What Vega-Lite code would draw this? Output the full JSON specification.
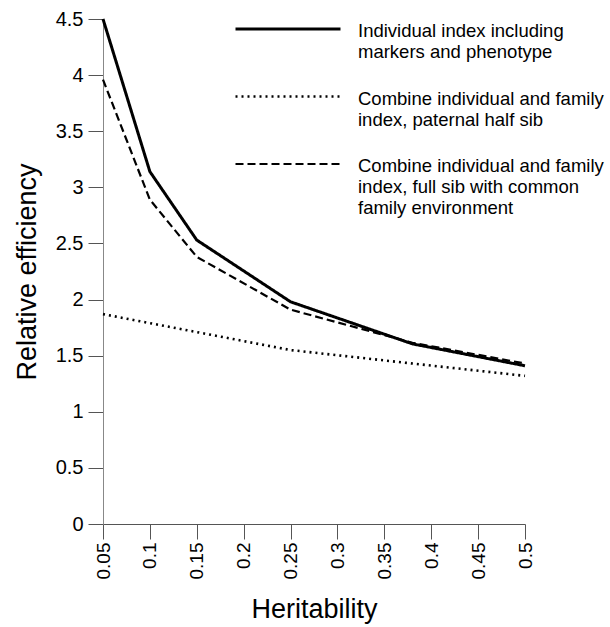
{
  "$schema": "https://vega.github.io/schema/vega-lite/v6.json",
  "width": 422,
  "height": 505,
  "autosize": {"type": "none"},
  "padding": {"left": 103, "top": 19, "right": 85, "bottom": 103},
  "background": "white",
  "config": {
    "font": "Liberation Sans",
    "view": {"stroke": null},
    "axis": {"grid": false}
  },
  "data": {
    "values": [
      {"h": 0.05, "eff": 4.5, "series": "Individual index including markers and phenotype"},
      {"h": 0.1, "eff": 3.14, "series": "Individual index including markers and phenotype"},
      {"h": 0.15, "eff": 2.53, "series": "Individual index including markers and phenotype"},
      {"h": 0.25, "eff": 1.98, "series": "Individual index including markers and phenotype"},
      {"h": 0.38, "eff": 1.605, "series": "Individual index including markers and phenotype"},
      {"h": 0.5, "eff": 1.41, "series": "Individual index including markers and phenotype"},
      {"h": 0.05, "eff": 1.87, "series": "Combine individual and family index, paternal half sib"},
      {"h": 0.1, "eff": 1.79, "series": "Combine individual and family index, paternal half sib"},
      {"h": 0.15, "eff": 1.71, "series": "Combine individual and family index, paternal half sib"},
      {"h": 0.25, "eff": 1.55, "series": "Combine individual and family index, paternal half sib"},
      {"h": 0.38, "eff": 1.43, "series": "Combine individual and family index, paternal half sib"},
      {"h": 0.5, "eff": 1.32, "series": "Combine individual and family index, paternal half sib"},
      {"h": 0.05, "eff": 3.96, "series": "Combine individual and family index, full sib with common family environment"},
      {"h": 0.1, "eff": 2.89, "series": "Combine individual and family index, full sib with common family environment"},
      {"h": 0.15, "eff": 2.38, "series": "Combine individual and family index, full sib with common family environment"},
      {"h": 0.25, "eff": 1.91, "series": "Combine individual and family index, full sib with common family environment"},
      {"h": 0.38, "eff": 1.615, "series": "Combine individual and family index, full sib with common family environment"},
      {"h": 0.5, "eff": 1.43, "series": "Combine individual and family index, full sib with common family environment"}
    ]
  },
  "mark": {"type": "line", "color": "black"},
  "encoding": {
    "x": {
      "field": "h",
      "type": "quantitative",
      "scale": {"domain": [0.05, 0.5], "nice": false, "zero": false},
      "axis": {
        "title": "Heritability",
        "values": [0.05, 0.1, 0.15, 0.2, 0.25, 0.3, 0.35, 0.4, 0.45, 0.5],
        "format": "~g",
        "labelAngle": 270,
        "labelAlign": "right",
        "labelBaseline": "middle",
        "labelPadding": 3,
        "labelFontSize": 19,
        "labelColor": "black",
        "labelFlush": false,
        "labelOverlap": false,
        "tickSize": 15,
        "tickColor": "#555555",
        "domainColor": "#555555",
        "titleFontSize": 27,
        "titleFontWeight": "normal",
        "titleColor": "black",
        "titlePadding": 18
      }
    },
    "y": {
      "field": "eff",
      "type": "quantitative",
      "scale": {"domain": [0, 4.5], "nice": false},
      "axis": {
        "title": "Relative efficiency",
        "values": [0, 0.5, 1, 1.5, 2, 2.5, 3, 3.5, 4, 4.5],
        "format": "~g",
        "labelPadding": 5,
        "labelFontSize": 20,
        "labelColor": "black",
        "labelFlush": false,
        "labelOverlap": false,
        "tickSize": 15,
        "tickColor": "#555555",
        "domainColor": "#888888",
        "titleFontSize": 27,
        "titleFontWeight": "normal",
        "titleColor": "black",
        "titlePadding": 14
      }
    },
    "strokeDash": {
      "field": "series",
      "type": "nominal",
      "scale": {
        "domain": [
          "Individual index including markers and phenotype",
          "Combine individual and family index, paternal half sib",
          "Combine individual and family index, full sib with common family environment"
        ],
        "range": [[1, 0], [2, 4], [8, 4]]
      },
      "legend": {
        "title": null,
        "orient": "none",
        "legendX": 132,
        "legendY": -2,
        "padding": 0,
        "symbolType": "M-5,0H5",
        "symbolSize": 441,
        "symbolStrokeColor": "black",
        "symbolOffset": 41,
        "labelFontSize": 18.5,
        "labelColor": "black",
        "labelLimit": 400,
        "labelOffset": 58,
        "rowPadding": 22.5,
        "labelBaseline": "top",
        "labelExpr": "datum.label == 'Individual index including markers and phenotype' ? ['Individual index including', 'markers and phenotype'] : datum.label == 'Combine individual and family index, paternal half sib' ? ['Combine individual and family', 'index, paternal half sib'] : ['Combine individual and family', 'index, full sib with common', 'family environment']",
        "encode": {
          "labels": {"update": {"lineHeight": {"value": 21}, "dy": {"value": -7}}}
        }
      }
    },
    "strokeWidth": {
      "field": "series",
      "type": "nominal",
      "scale": {
        "domain": [
          "Individual index including markers and phenotype",
          "Combine individual and family index, paternal half sib",
          "Combine individual and family index, full sib with common family environment"
        ],
        "range": [3, 2.2, 2.6]
      },
      "legend": null
    }
  }
}
